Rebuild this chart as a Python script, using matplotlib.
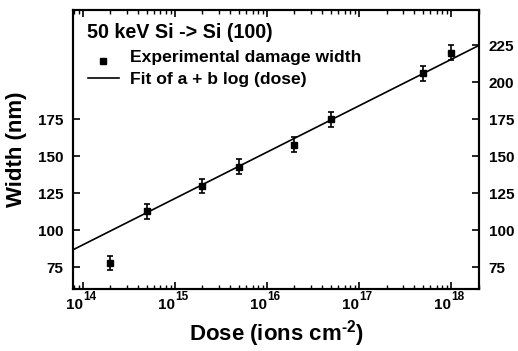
import numpy as np
import matplotlib
matplotlib.use("Agg")
import matplotlib.pyplot as plt
from matplotlib.ticker import FixedLocator, LogLocator, NullFormatter

plt.rcParams['font.family'] = ['Liberation Sans', 'DejaVu Sans']
plt.rcParams['font.weight'] = 'bold'
plt.rcParams['mathtext.fontset'] = 'custom'
plt.rcParams['mathtext.rm'] = 'Liberation Sans:bold'
plt.rcParams['mathtext.bf'] = 'Liberation Sans:bold'
plt.rcParams['mathtext.default'] = 'bf'

# measured damage width vs dose
dose = [2e14, 5e14, 2e15, 5e15, 2e16, 5e16, 5e17, 1e18]
width = [78, 113, 130, 143, 158, 175, 206, 220]
err = [5, 5, 5, 5, 5, 5, 5, 5]

# fit: width = a + b*log10(dose)
fit_a = -348.0
fit_b = 31.3

x_exponents = [14, 15, 16, 17, 18]
left_ticks = [75, 100, 125, 150, 175]
right_ticks = [75, 100, 125, 150, 175, 200, 225]

fig = plt.figure(figsize=(5.18, 3.51), dpi=100)
ax = fig.add_axes([0.141, 0.177, 0.784, 0.795])

xlim = (7.85e13, 2.03e18)
xs = np.logspace(np.log10(xlim[0]), np.log10(xlim[1]), 50)
ax.plot(xs, fit_a + fit_b * np.log10(xs), color='black', lw=1.2)
ax.errorbar(dose, width, yerr=err, fmt='s', color='black', ms=4.5,
            elinewidth=1.2, capsize=2, capthick=1.2)

ax.set_xscale('log')
ax.set_xlim(*xlim)
ax.set_ylim(60.5, 249)
ax.xaxis.set_major_locator(FixedLocator([10.0 ** e for e in x_exponents]))
ax.xaxis.set_major_formatter(NullFormatter())
ax.xaxis.set_minor_locator(LogLocator(base=10, subs=np.arange(2, 10), numticks=10))
ax.xaxis.set_minor_formatter(NullFormatter())
ax.yaxis.set_major_locator(FixedLocator(left_ticks))

# x tick labels with big exponents, like the original
for e in x_exponents:
    ax.annotate('10', xy=(10.0 ** e, 0), xycoords=('data', 'axes fraction'),
                xytext=(0.3, -6.3), textcoords='offset points',
                ha='right', va='top', fontsize=11, fontweight='bold')
    ax.annotate(str(e), xy=(10.0 ** e, 0), xycoords=('data', 'axes fraction'),
                xytext=(0.3, -1.2), textcoords='offset points',
                ha='left', va='top', fontsize=8.5, fontweight='bold')

ax2 = ax.twinx()
ax2.set_ylim(ax.get_ylim())
ax2.yaxis.set_major_locator(FixedLocator(right_ticks))

for a in (ax, ax2):
    for s in a.spines.values():
        s.set_linewidth(1.5)
ax.tick_params(axis='both', which='major', direction='in', length=5, width=1.2,
               labelsize=11, top=True, pad=7)
ax.tick_params(axis='x', which='minor', direction='in', length=3, width=1, top=True)
ax.tick_params(axis='y', which='both', right=False)
ax2.tick_params(axis='y', direction='in', length=5, width=1.2, labelsize=11, pad=7)

ax.set_xlabel(r'Dose (ions cm$^{\text{-2}}$)', fontsize=16, fontweight='bold', labelpad=14)
ax.set_ylabel('Width (nm)', fontsize=16, fontweight='bold', labelpad=8)

ax.text(0.034, 0.918, '50 keV Si -> Si (100)', transform=ax.transAxes,
        fontsize=14.2, fontweight='bold', va='center')
ax.plot([0.074], [0.815], transform=ax.transAxes, marker='s', ms=4, color='black')
ax.text(0.14, 0.828, 'Experimental damage width', transform=ax.transAxes,
        fontsize=12.6, fontweight='bold', va='center')
ax.plot([0.037, 0.113], [0.757, 0.757], transform=ax.transAxes, color='black', lw=1.2)
ax.text(0.14, 0.752, 'Fit of a + b log (dose)', transform=ax.transAxes,
        fontsize=12.6, fontweight='bold', va='center')

fig.savefig('out.png', dpi=100)
